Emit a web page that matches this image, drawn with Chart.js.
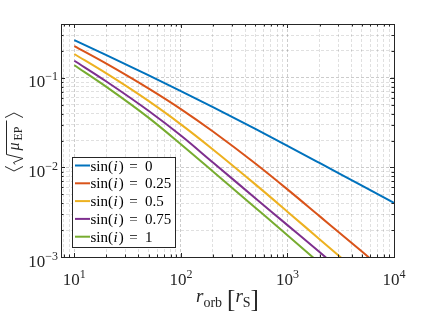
<!DOCTYPE html>
<html>
<head>
<meta charset="utf-8">
<script src="https://cdn.jsdelivr.net/npm/chart.js@4.4.0/dist/chart.umd.min.js"></script>
<style>
  html, body { margin: 0; padding: 0; background: #fff; }
  #wrap { width: 436px; height: 313px; }
</style>
</head>
<body>
<div id="wrap"><canvas id="chart" width="436" height="313"></canvas></div>
<script>
// orbital radius, in Schwarzschild radii
const rOrb = [10, 20, 50, 100, 200, 500, 1000, 2000, 5000, 10000];

// <sqrt(mu_EP)> for each inclination
const muSin0   = [0.264, 0.180, 0.1066, 0.0711, 0.0471, 0.0269, 0.01746, 0.01124, 0.00625, 0.00402];
const muSin025 = [0.227, 0.1445, 0.0760, 0.0449, 0.0252, 0.01107, 0.00569, 0.00286, 0.00115, 0.000573];
const muSin05  = [0.185, 0.1122, 0.0550, 0.0303, 0.01589, 0.00647, 0.00321, 0.00158, 0.000622, 0.000307];
const muSin075 = [0.1556, 0.0912, 0.0427, 0.0227, 0.01135, 0.00454, 0.00227, 0.001135, 0.000450, 0.000224];
const muSin1   = [0.1384, 0.0794, 0.0358, 0.0182, 0.00902, 0.00355, 0.00175, 0.000857, 0.000333, 0.000163];

const sinLabels = ['0', '0.25', '0.5', '0.75', '1'];
const lineColors = ['#0072BD', '#D95319', '#EDB120', '#7E2F8E', '#77AC30'];

// grid / tick positions (major = powers of ten)
const xTickVals = [8, 9, 10, 20, 30, 40, 50, 60, 70, 80, 90, 100, 200, 300, 400, 500, 600, 700, 800, 900,
  1000, 2000, 3000, 4000, 5000, 6000, 7000, 8000, 9000, 10000];
const yTickVals = [0.001, 0.002, 0.003, 0.004, 0.005, 0.006, 0.007, 0.008, 0.009,
  0.01, 0.02, 0.03, 0.04, 0.05, 0.06, 0.07, 0.08, 0.09, 0.1, 0.2, 0.3, 0.4];

const SERIF = '"Liberation Serif", "DejaVu Serif", serif';
const AXIS = '#262626';

const isPow10 = (v) => Math.abs(Math.log10(v) - Math.round(Math.log10(v))) < 1e-9;
const gridColor = (c) => (c.tick && c.tick.major ? 'rgba(0,0,0,0.2)' : 'rgba(0,0,0,0.12)');

// "10" with a superscript exponent
function drawPow(ctx, exp, x, y, align) {
  const sup = exp < 0 ? '\u2212' + Math.abs(exp) : String(exp);
  ctx.font = '17px ' + SERIF;
  const wb = ctx.measureText('10').width;
  ctx.font = '12px ' + SERIF;
  const ws = ctx.measureText(sup).width;
  const x0 = align === 'center' ? x - (wb + ws) / 2 : x - (wb + ws);
  ctx.font = '17px ' + SERIF;
  ctx.fillText('10', x0, y);
  ctx.font = '12px ' + SERIF;
  ctx.fillText(sup, x0 + wb, y - 7);
}

// draw text pieces side by side, centered on cx
function drawPieces(ctx, pieces, cx, y) {
  let w = 0;
  pieces.forEach((p) => {
    ctx.font = p.font;
    p.w = ctx.measureText(p.t).width + (p.gap || 0);
    w += p.w;
  });
  let x = cx - w / 2;
  pieces.forEach((p) => {
    ctx.font = p.font;
    ctx.fillText(p.t, x, y + (p.dy || 0));
    x += p.w;
  });
}

const decor = {
  id: 'decor',
  afterDraw(chart) {
    const { ctx, chartArea: a, scales: { x, y } } = chart;
    ctx.save();
    ctx.textAlign = 'left';
    ctx.textBaseline = 'alphabetic';

    // inward ticks on all four sides
    ctx.strokeStyle = AXIS;
    ctx.lineWidth = 1;
    ctx.beginPath();
    x.ticks.forEach((t) => {
      const px = Math.round(x.getPixelForValue(t.value)) + 0.5;
      const len = t.major ? 4 : 2.5;
      ctx.moveTo(px, a.bottom); ctx.lineTo(px, a.bottom - len);
      ctx.moveTo(px, a.top); ctx.lineTo(px, a.top + len);
    });
    y.ticks.forEach((t) => {
      const py = Math.round(y.getPixelForValue(t.value)) + 0.5;
      const len = t.major ? 4 : 2.5;
      ctx.moveTo(a.left, py); ctx.lineTo(a.left + len, py);
      ctx.moveTo(a.right, py); ctx.lineTo(a.right - len, py);
    });
    ctx.stroke();
    ctx.strokeRect(Math.round(a.left) + 0.5, Math.round(a.top) + 0.5,
      Math.round(a.right - a.left), Math.round(a.bottom - a.top));

    // tick labels
    ctx.fillStyle = AXIS;
    x.ticks.filter((t) => t.major).forEach((t) => {
      drawPow(ctx, Math.round(Math.log10(t.value)), x.getPixelForValue(t.value), 285, 'center');
    });
    y.ticks.filter((t) => t.major).forEach((t) => {
      drawPow(ctx, Math.round(Math.log10(t.value)), 58, y.getPixelForValue(t.value) + 9.5, 'right');
    });

    // x title: r_orb [r_S]
    drawPieces(ctx, [
      { t: 'r', font: 'italic 19px ' + SERIF },
      { t: 'orb', font: '14px ' + SERIF, dy: 5, gap: 5 },
      { t: '[', font: '25px ' + SERIF, dy: 5 },
      { t: 'r', font: 'italic 19px ' + SERIF },
      { t: 'S', font: '14px ' + SERIF, dy: 5 },
      { t: ']', font: '25px ' + SERIF, dy: 5 },
    ], (a.left + a.right) / 2, 302);

    // y title: <sqrt(mu_EP)>
    ctx.save();
    ctx.translate(14, (a.top + a.bottom) / 2);
    ctx.rotate(-Math.PI / 2);
    ctx.font = 'italic 16px ' + SERIF;
    ctx.fillText('\u03bc', -10, 5);
    ctx.font = '12px ' + SERIF;
    ctx.fillText('EP', 0, 8);
    ctx.lineWidth = 1;
    ctx.beginPath();
    ctx.moveTo(-24, 1); ctx.lineTo(-22, -0.5); ctx.lineTo(-18, 9); ctx.lineTo(-14, -7.5); ctx.lineTo(20, -7.5);
    ctx.stroke();
    ctx.beginPath();
    ctx.moveTo(-26, -9); ctx.lineTo(-30.5, 0); ctx.lineTo(-26, 9);
    ctx.moveTo(23, -9); ctx.lineTo(27.5, 0); ctx.lineTo(23, 9);
    ctx.stroke();
    ctx.restore();

    // legend box
    const lgX = 72, lgY = 157, lgW = 103, lgH = 90;
    ctx.fillStyle = '#fff';
    ctx.fillRect(lgX, lgY, lgW, lgH);
    ctx.strokeStyle = AXIS;
    ctx.lineWidth = 1;
    ctx.strokeRect(lgX + 0.5, lgY + 0.5, lgW, lgH);
    chart.data.datasets.forEach((ds, i) => {
      const cy = 165.5 + i * 17.8;
      ctx.strokeStyle = ds.borderColor;
      ctx.lineWidth = 2;
      ctx.beginPath(); ctx.moveTo(75, cy); ctx.lineTo(90, cy); ctx.stroke();
      ctx.fillStyle = '#000';
      const bl = cy + 5;
      let tx = 90.5;
      ctx.font = '15px ' + SERIF;
      ctx.fillText('sin(', tx, bl); tx += ctx.measureText('sin(').width;
      ctx.font = 'italic 15px ' + SERIF;
      ctx.fillText('i', tx + 0.5, bl); tx += ctx.measureText('i').width + 1.5;
      ctx.font = '15px ' + SERIF;
      ctx.fillText(')', tx, bl);
      ctx.textAlign = 'center';
      ctx.fillText('=', 133.5, bl);
      ctx.textAlign = 'left';
      ctx.fillText(sinLabels[i], 145, bl);
    });

    ctx.restore();
  },
};

const series = [muSin0, muSin025, muSin05, muSin075, muSin1];

new Chart(document.getElementById('chart'), {
  type: 'line',
  data: {
    datasets: series.map((vals, i) => ({
      label: 'sin(i) = ' + sinLabels[i],
      data: rOrb.map((r, j) => ({ x: r, y: vals[j] })),
      borderColor: lineColors[i],
      borderWidth: 2,
      pointRadius: 0,
      fill: false,
      cubicInterpolationMode: 'monotone',
      clip: 0,
    })),
  },
  options: {
    responsive: false,
    animation: false,
    devicePixelRatio: 1,
    layout: { padding: { top: 24, right: 42, left: 0, bottom: 0 } },
    plugins: { legend: { display: false }, tooltip: { enabled: false } },
    scales: {
      x: {
        type: 'logarithmic',
        min: 7.5,
        max: 10000,
        afterBuildTicks: (s) => { s.ticks = xTickVals.map((v) => ({ value: v, major: isPow10(v) })); },
        afterFit: (s) => { s.height = 56; },
        ticks: { display: false },
        grid: { color: gridColor, lineWidth: 1, drawTicks: false },
        border: { display: false, dash: [3, 2] },
      },
      y: {
        type: 'logarithmic',
        min: 0.001,
        max: 0.4,
        afterBuildTicks: (s) => { s.ticks = yTickVals.map((v) => ({ value: v, major: isPow10(v) })); },
        afterFit: (s) => { s.width = 61; },
        ticks: { display: false },
        grid: { color: gridColor, lineWidth: 1, drawTicks: false },
        border: { display: false, dash: [3, 2] },
      },
    },
  },
  plugins: [decor],
});
</script>
</body>
</html>
